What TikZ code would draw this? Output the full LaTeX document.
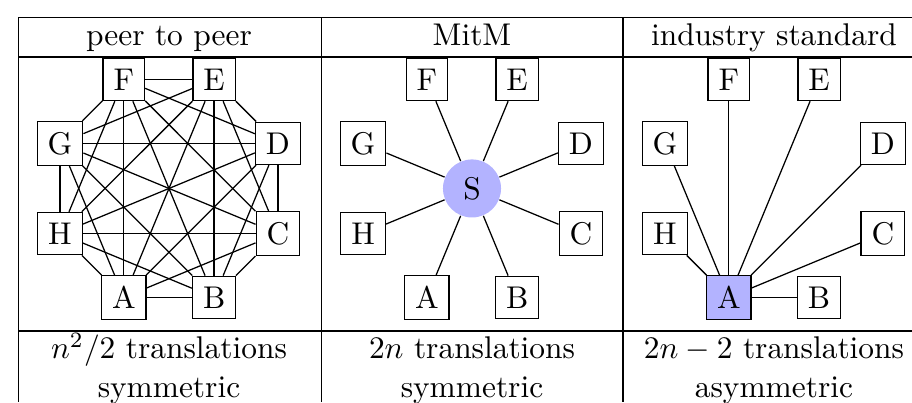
\documentclass[tikz,border=0pt]{standalone}
\usepackage{tikz}
\usetikzlibrary{calc}
\usepackage{xcolor}
\definecolor{hubfill}{HTML}{B3B3FF}

\tikzset{
  client/.style={draw,fill=white},
  server/.style={circle,fill=hubfill},
  gateway/.style={draw,fill=hubfill},
  cell/.style={anchor=base},
}

\begin{document}
\begin{tikzpicture}
  \useasboundingbox (0,0) rectangle (10.206,-4.499);
  \clip (0,0) rectangle (10.206,-4.499);
  % table rules
  \draw (0.207,-0.196) -- (10.206,-0.196);
  \draw (0.207,-0.638) -- (10.206,-0.638);
  \draw (0.207,-3.704) -- (10.206,-3.704);
  \foreach \x in {0.207,3.598,6.972} \draw (\x,-0.196) -- (\x,-4.499);
  % header
  \node[cell] (hp) at (1.891,-0.504) {peer to peer};
  \node[cell] (hm) at (5.282,-0.504) {MitM};
  \node[cell] (hi) at (8.661,-0.504) {industry standard};
  % centres of the three octagons
  \coordinate (pc) at (1.891,-2.109);
  \coordinate (mc) at (5.282,-2.109);
  \coordinate (ic) at (8.661,-2.109);
  % peer to peer: everybody talks to everybody
  \foreach \n/\a in {A/247.5,B/292.5,C/337.5,D/22.5,E/67.5,F/112.5,G/157.5,H/202.5}
    \node[client] (p\n) at ($(pc)+(\a:1.32)$) {\n};
  \foreach \u [count=\i] in {A,B,C,D,E,F,G,H}
    \foreach \v [count=\j] in {A,B,C,D,E,F,G,H}
      {\ifnum\j>\i \draw (p\u) -- (p\v); \fi}
  % MitM: one server in the middle
  \node[server] (mS) at (mc) {S};
  \foreach \n/\a in {A/247.5,B/292.5,C/337.5,D/22.5,E/67.5,F/112.5,G/157.5,H/202.5}
    \node[client] (m\n) at ($(mc)+(\a:1.32)$) {\n};
  \foreach \n in {A,B,C,D,E,F,G,H} \draw (mS) -- (m\n);
  % industry standard: A is the hub
  \node[gateway] (iA) at ($(ic)+(247.5:1.32)$) {A};
  \foreach \n/\a in {B/292.5,C/337.5,D/22.5,E/67.5,F/112.5,G/157.5,H/202.5}
    \node[client] (i\n) at ($(ic)+(\a:1.32)$) {\n};
  \foreach \n in {B,C,D,E,F,G,H} \draw (iA) -- (i\n);
  % footer
  \node[cell] (fp1) at (1.891,-4.017) {$n^2/2$ translations};
  \node[cell] (fp2) at (1.891,-4.443) {symmetric};
  \node[cell] (fm1) at (5.282,-4.017) {$2n$ translations};
  \node[cell] (fm2) at (5.282,-4.443) {symmetric};
  \node[cell] (fi1) at (8.661,-4.017) {$2n-2$ translations};
  \node[cell] (fi2) at (8.661,-4.443) {asymmetric};
\end{tikzpicture}
\end{document}
